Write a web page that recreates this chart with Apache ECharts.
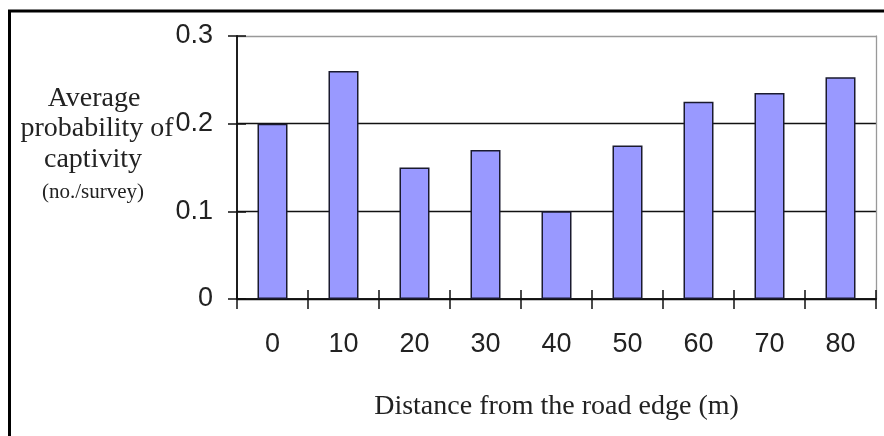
<!DOCTYPE html>
<html><head><meta charset="utf-8">
<script src="https://cdn.jsdelivr.net/npm/echarts@6/dist/echarts.min.js"></script>
<style>html,body{margin:0;padding:0;background:#fff}#c{width:884px;height:436px}</style>
</head><body><div id="c"></div>
<script>
const categories = ['0','10','20','30','40','50','60','70','80'];
const values = [0.2, 0.26, 0.15, 0.17, 0.1, 0.175, 0.225, 0.235, 0.253];
const yTitleLines = ['Average', 'probability of', 'captivity'];
const yTitleSub = '(no./survey)';
const xTitle = 'Distance from the road edge (m)';

const chart = echarts.init(document.getElementById('c'), null, {renderer:'canvas'});
const labelFont = {fontFamily:'Liberation Sans, Arial, sans-serif', fontSize:27, color:'#222'};
const serif = 'Liberation Serif, Times New Roman, serif';
chart.setOption({
  animation:false,
  grid:{left:237, right:8, top:36, bottom:137, containLabel:false},
  xAxis:[
    {type:'category', data:categories, position:'bottom',
     axisLine:{lineStyle:{color:'#111', width:1.5}},
     axisTick:{show:true, length:10, lineStyle:{color:'#111', width:1.5}},
     axisLabel:Object.assign({margin:32}, labelFont),
     name:xTitle, nameLocation:'middle', nameGap:94,
     nameTextStyle:{fontFamily:serif, fontSize:28, color:'#222'}},
    {type:'category', data:categories, position:'bottom',
     axisLine:{show:true, lineStyle:{color:'#111', width:1.5}},
     axisTick:{show:true, inside:true, length:9, lineStyle:{color:'#111', width:1.5}},
     axisLabel:{show:false}}
  ],
  yAxis:[
    {type:'value', min:0, max:0.3, interval:0.1, position:'left',
     axisLine:{show:true, lineStyle:{color:'#111', width:1.5}},
     axisTick:{show:true, length:9, lineStyle:{color:'#111', width:1.5}},
     axisLabel:Object.assign({margin:24, formatter:v=>String(+v.toFixed(1))}, labelFont),
     splitLine:{show:true, lineStyle:{color:['#111','#111','#111','#999'], width:1.3}}},
    {type:'value', min:0, max:0.3, interval:0.1, position:'left',
     axisLine:{show:true, lineStyle:{color:'#111', width:1.5}},
     axisTick:{show:true, inside:true, length:9, lineStyle:{color:'#111', width:1.5}},
     axisLabel:{show:false}, splitLine:{show:false}},
    {type:'value', min:0, max:0.3, interval:0.1, position:'right',
     axisLine:{show:true, lineStyle:{color:'#999', width:1.3}},
     axisTick:{show:false}, axisLabel:{show:false}, splitLine:{show:false}}
  ],
  series:[{
    type:'bar', data:values, xAxisIndex:0, yAxisIndex:0, barWidth:30,
    itemStyle:{color:'#9999ff', borderColor:'#1a1a2e', borderWidth:1.5}
  }],
  graphic:[
    {type:'rect', shape:{x:9.5, y:11, width:900, height:450}, style:{fill:null, stroke:'#000', lineWidth:3}, silent:true},
    {type:'text', x:94, y:113, style:{text:yTitleLines[0], font:'28px '+serif, fill:'#222', textAlign:'center', textVerticalAlign:'bottom'}},
    {type:'text', x:97, y:143, style:{text:yTitleLines[1], font:'28px '+serif, fill:'#222', textAlign:'center', textVerticalAlign:'bottom'}},
    {type:'text', x:93, y:174, style:{text:yTitleLines[2], font:'28px '+serif, fill:'#222', textAlign:'center', textVerticalAlign:'bottom'}},
    {type:'text', x:93, y:203, style:{text:yTitleSub, font:'21px '+serif, fill:'#222', textAlign:'center', textVerticalAlign:'bottom'}}
  ]
});
</script></body></html>
